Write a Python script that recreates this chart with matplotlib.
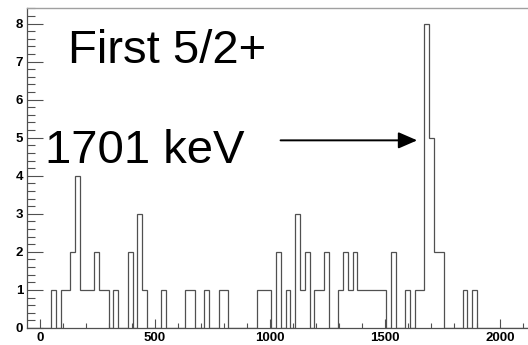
import numpy as np
import matplotlib
matplotlib.use('Agg')
import matplotlib.pyplot as plt
from matplotlib.ticker import MultipleLocator

plt.rcParams['font.family'] = ['Liberation Sans', 'DejaVu Sans']

# gamma spectrum, counts per bin (keV)
bin_lo = -55.0
bin_width = 20.8
counts = [
    0, 0, 0, 0, 0, 1, 0, 1, 1, 2,
    4, 1, 1, 1, 2, 1, 1, 0, 1, 0,
    0, 2, 0, 3, 1, 0, 0, 0, 1, 0,
    0, 0, 0, 1, 1, 0, 0, 1, 0, 0,
    1, 1, 0, 0, 0, 0, 0, 0, 1, 1,
    1, 0, 2, 0, 1, 0, 3, 1, 2, 0,
    1, 1, 2, 0, 0, 1, 2, 1, 2, 1,
    1, 1, 1, 1, 1, 0, 2, 0, 0, 1,
    0, 1, 1, 8, 5, 2, 2, 0, 0, 0,
    0, 1, 0, 1, 0, 0, 0, 0, 0, 0,
    0, 0, 0, 0, 0, 0, 0, 0, 0, 0,
]
x_major = [0, 500, 1000, 1500, 2000]
y_major = [0, 1, 2, 3, 4, 5, 6, 7, 8]

title_text = 'First 5/2+'
peak_text = '1701 keV'
arrow_from = (1046, 4.93)
arrow_to = (1640, 4.93)

counts = np.array(counts)
edges = bin_lo + bin_width * np.arange(len(counts) + 1)

fig = plt.figure(figsize=(5.28, 3.45), dpi=100)
# frame runs off the right edge, like the original canvas
ax = fig.add_axes([0.0517, 0.0493, 0.9968, 0.9267])

line_col = '#505050'
ax.stairs(counts, edges, baseline=0, color=line_col, lw=0.9)

ax.set_xlim(edges[0], edges[-1])
ax.set_ylim(0, counts.max() * 1.05)

ax.set_xticks(x_major)
ax.xaxis.set_minor_locator(MultipleLocator(100))
ax.set_yticks(y_major)
ax.yaxis.set_minor_locator(MultipleLocator(0.2))

ax.tick_params(axis='both', which='both', direction='in', color=line_col, width=0.8,
               top=False, right=False)
ax.tick_params(axis='y', which='major', length=11.5, pad=3, labelsize=9.5)
ax.tick_params(axis='y', which='minor', length=6)
ax.tick_params(axis='x', which='major', length=6.5, pad=3, labelsize=9.5)
ax.tick_params(axis='x', which='minor', length=3.3)
for lab in ax.get_xticklabels() + ax.get_yticklabels():
    lab.set_fontweight('bold')

for side in ['left', 'bottom']:
    ax.spines[side].set_color(line_col)
    ax.spines[side].set_linewidth(0.9)
ax.spines['top'].set_color('#a0a0a0')
ax.spines['top'].set_linewidth(1.0)
ax.spines['right'].set_visible(False)

fig.text(68 / 528, 1 - 63.3 / 345, title_text, fontsize=34, va='baseline', ha='left')
fig.text(45 / 528, 1 - 163.3 / 345, peak_text, fontsize=34, va='baseline', ha='left')

ax.annotate('', xy=arrow_to, xytext=arrow_from,
            arrowprops=dict(arrowstyle='-|>,head_length=1.15,head_width=0.5',
                            mutation_scale=10, lw=1.4, color='black',
                            shrinkA=0, shrinkB=0))

fig.savefig('out.png', dpi=100)
